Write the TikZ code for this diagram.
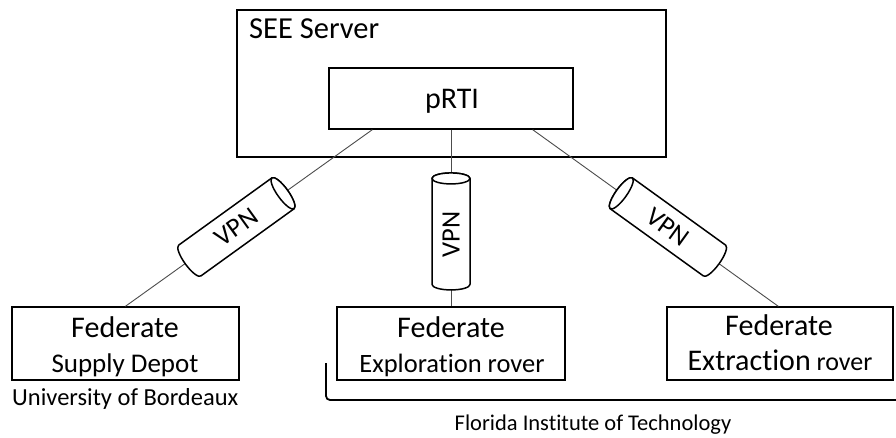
\documentclass[tikz,border=0pt]{standalone}
\usepackage{fontspec}
\setmainfont{Carlito}[Ligatures={NoCommon}]
\usetikzlibrary{calc}
\newcommand{\fsz}[1]{\fontsize{#1}{#1}\selectfont}
\tikzset{
  box/.style={draw=black, line width=1.3pt, inner sep=0pt, fill=white},
  conn/.style={draw=black!70, line width=0.9pt},
  cyl/.style={draw=black, line width=1.5pt, fill=white, line join=round},
  lbl/.style={inner sep=0pt, text=black},
  pics/vpncyl/.style={code={
    \filldraw[cyl] (#1/2,19) -- (-#1/2,19)
      arc[start angle=90, end angle=270, x radius=5.5, y radius=19]
      -- (#1/2,-19)
      arc[start angle=-90, end angle=90, x radius=5.5, y radius=19] -- cycle;
    \draw[cyl] (#1/2,0) ellipse[x radius=5.5, y radius=19];
  }}
}
\begin{document}
\begin{tikzpicture}[x=1pt, y=1pt]
\useasboundingbox (0,0) rectangle (896,-437);

% boxes
\node[box, minimum width=429pt, minimum height=147pt] (see) at (451.5,-83.5) {};
\node[box, minimum width=244pt, minimum height=61pt] (prti) at (451,-98.5) {};
\node[box, minimum width=227pt, minimum height=73pt] (fedL) at (125.5,-343.5) {};
\node[box, minimum width=228pt, minimum height=73pt] (fedM) at (451,-343.5) {};
\node[box, minimum width=226pt, minimum height=73pt] (fedR) at (780,-343.5) {};

% connector end points
\coordinate (pl) at ([xshift=44pt]prti.south west);
\coordinate (pr) at ([xshift=-41pt]prti.south east);
\coordinate (fl) at ([xshift=114pt]fedL.north west);
\coordinate (fr) at ([xshift=112pt]fedR.north west);

% connectors
\draw[conn] (pl) -- (fl) coordinate[pos=0.5506] (cL);
\draw[conn] (prti.south) -- (fedM.north) coordinate[pos=0.576] (cM);
\draw[conn] (pr) -- (fr) coordinate[pos=0.5506] (cR);

% VPN cylinders
\pic[rotate=35.8] (cylL) at (cL) {vpncyl=115};
\pic[rotate=90] (cylM) at (cM) {vpncyl=106};
\pic[rotate=144.2] (cylR) at (cR) {vpncyl=115};
\node[lbl, rotate=35.8, font=\fsz{26.5}] (vpnL) at (cL) {VPN};
\node[lbl, rotate=90, font=\fsz{26.5}] (vpnM) at ([yshift=-3pt]cM) {VPN};
\node[lbl, rotate=-35.8, font=\fsz{26.5}] (vpnR) at (cR) {VPN};

% texts
\node[lbl, anchor=base west, font=\fsz{30.5}] (tSee) at (249,-38) {SEE Server};
\node[lbl, anchor=base, font=\fsz{30}] (tPrti) at (452,-108) {pRTI};
\node[lbl, anchor=base, font=\fsz{30}] (tFL) at (125,-337) {Federate};
\node[lbl, anchor=base, font=\fsz{27}] (tSD) at (125,-372) {Supply Depot};
\node[lbl, anchor=base, font=\fsz{30}] (tFM) at (451,-337) {Federate};
\node[lbl, anchor=base, font=\fsz{26.5}] (tER) at (452,-372) {Exploration rover};
\node[lbl, anchor=base, font=\fsz{30}] (tFR) at (779,-335) {Federate};
\node[lbl, anchor=base, font=\fsz{30}] (tXR) at (780,-370) {Extraction\fsz{26} rover};
\node[lbl, anchor=base west, font=\fsz{24.5}] (tUB) at (12,-405) {University of Bordeaux};
\node[lbl, anchor=base, font=\fsz{22.5}] (tFIT) at (593,-430) {Florida Institute of Technology};

% bracket
\coordinate (bTop) at (326,-363);
\coordinate (bEnd) at (896,-400);
\draw[line width=1.8pt, rounded corners=4pt] (bTop) |- (bEnd);
\end{tikzpicture}
\end{document}
